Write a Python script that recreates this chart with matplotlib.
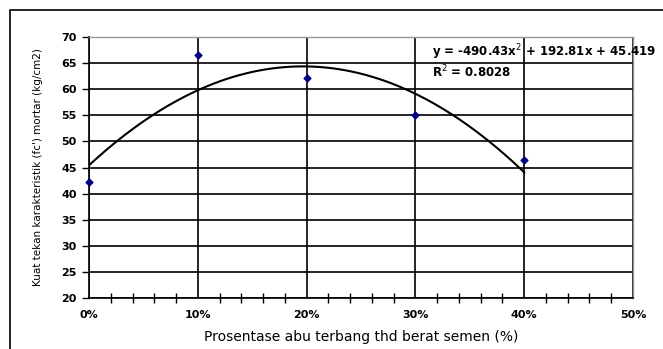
import numpy as np
import matplotlib
matplotlib.use("Agg")
import matplotlib.pyplot as plt
from matplotlib.patches import Rectangle
from matplotlib.ticker import FuncFormatter, MultipleLocator

# Data
x_pct = [0.0, 0.10, 0.20, 0.30, 0.40]
y_val = [42.3, 66.6, 62.1, 55.1, 46.4]
coef = [-490.43, 192.81, 45.419]   # trendline y = a x^2 + b x + c
r2 = 0.8028
x_ticks = [0.0, 0.1, 0.2, 0.3, 0.4, 0.5]
y_ticks = [20, 25, 30, 35, 40, 45, 50, 55, 60, 65, 70]

plt.rcParams['font.family'] = ['DejaVu Sans']

W, H = 663, 349
fig = plt.figure(figsize=(W/100, H/100), dpi=100)
fig.patch.set_facecolor('white')

# outer frame (clipped at right & bottom)
fig.patches.append(Rectangle((10/W, -0.1), 1.2, (H-10)/H + 0.1, transform=fig.transFigure,
                             fill=False, edgecolor='black', linewidth=1.2))

ax = fig.add_axes([89/W, 1-298/H, (633-89)/W, (298-37)/H])
ax.set_xlim(0, 0.5)
ax.set_ylim(20, 70)

ax.set_xticks(x_ticks)
ax.set_yticks(y_ticks)
ax.xaxis.set_minor_locator(MultipleLocator(0.02))
ax.xaxis.set_major_formatter(FuncFormatter(lambda v, p: f"{v*100:.0f}%"))

ax.grid(True, which='major', color='black', linewidth=1.2)
ax.set_axisbelow(True)

for s in ['top', 'right']:
    ax.spines[s].set_color('#999999')
    ax.spines[s].set_linewidth(1.0)
for s in ['left', 'bottom']:
    ax.spines[s].set_color('black')
    ax.spines[s].set_linewidth(1.2)

ax.tick_params(axis='x', which='both', direction='inout', length=7, width=1.0, labelsize=8, pad=9)
ax.tick_params(axis='x', which='major', length=0)
ax.tick_params(axis='y', which='major', direction='out', length=5, width=1.0, labelsize=8, pad=4)
for lbl in ax.get_xticklabels() + ax.get_yticklabels():
    lbl.set_fontweight('bold')

# trendline
xs = np.linspace(0, 0.4, 200)
ys = np.polyval(coef, xs)
ax.plot(xs, ys, color='black', linewidth=1.5, zorder=3)

ax.scatter(x_pct, y_val, marker='D', s=12, color='#000080', zorder=4, clip_on=False)

ax.text(432/W, 1-52/H, f"y = {coef[0]}x$^2$ + {coef[1]}x + {coef[2]}", transform=fig.transFigure,
        fontsize=8.5, fontweight='semibold', va='center', ha='left', clip_on=False)
ax.text(432/W, 1-72/H, f"R$^2$ = {r2}", transform=fig.transFigure,
        fontsize=8.5, fontweight='semibold', va='center', ha='left', clip_on=False)

ax.set_xlabel("Prosentase abu terbang thd berat semen (%)", fontsize=10, labelpad=7)
ax.set_ylabel("Kuat tekan karakteristik (fc') mortar (kg/cm2)", fontsize=7.5, labelpad=13)

fig.savefig("out.png", dpi=100)
